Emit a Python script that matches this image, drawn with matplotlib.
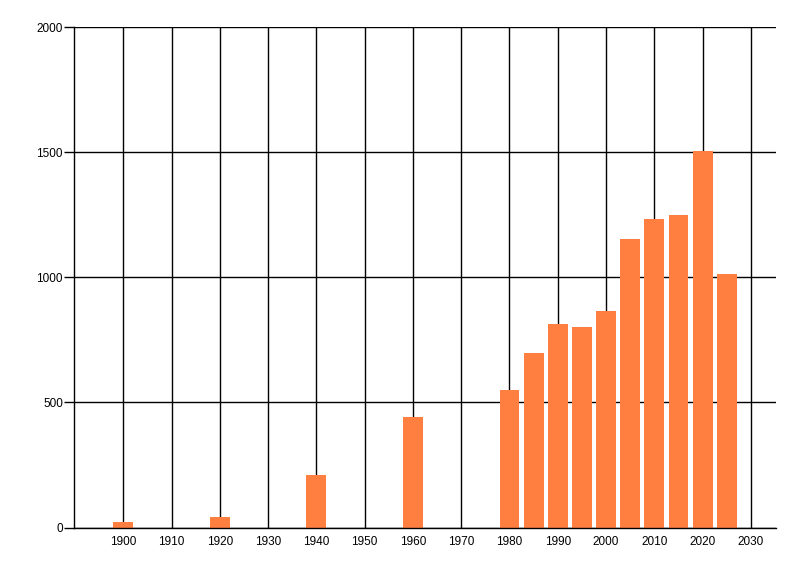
import numpy as np
import matplotlib
matplotlib.use('Agg')
import matplotlib.pyplot as plt

plt.rcParams['font.family'] = ['Liberation Sans', 'DejaVu Sans']

# values
years = [1900, 1920, 1940, 1960, 1980, 1985, 1990, 1995, 2000, 2005, 2010, 2015, 2020, 2025]
counts = [20, 40, 210, 443, 551, 699, 814, 802, 866, 1154, 1234, 1250, 1505, 1014]
x_ticks = list(range(1900, 2031, 10))
y_ticks = [0, 500, 1000, 1500, 2000]

fig = plt.figure(figsize=(8, 5.76), dpi=100)
ax = fig.add_axes([74 / 800, 48.5 / 576, 702 / 800, 500.5 / 576])

ax.bar(years, counts, width=4.1, color='#ff7f41', zorder=3)

ax.set_xlim(1889.8, 2035.2)
ax.set_ylim(0, 2000)
ax.set_xticks(x_ticks)
ax.set_yticks(y_ticks)

ax.grid(True, color='black', linewidth=1, zorder=1)
for side in ['top', 'right']:
    ax.spines[side].set_visible(False)
for side in ['left', 'bottom']:
    ax.spines[side].set_color('black')
    ax.spines[side].set_linewidth(1)
    ax.spines[side].set_zorder(4)

ax.tick_params(axis='x', length=0, pad=6, labelsize=8.5)
ax.tick_params(axis='y', length=7, width=1, pad=1, labelsize=8.5)

plt.savefig('out.png', dpi=100)
